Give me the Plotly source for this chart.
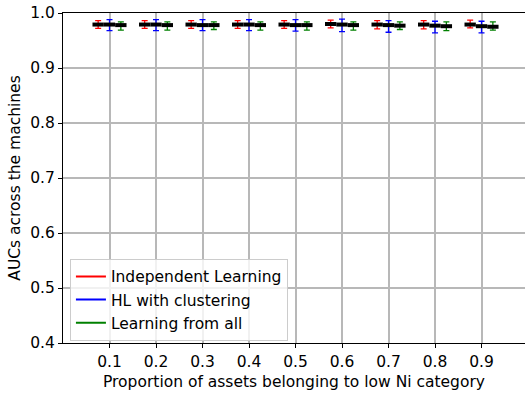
import plotly.graph_objects as go

categories = [0.1, 0.2, 0.3, 0.4, 0.5, 0.6, 0.7, 0.8, 0.9]
series_names = ["Independent Learning", "HL with clustering", "Learning from all"]

red_med = [0.979, 0.979, 0.979, 0.979, 0.979, 0.980, 0.979, 0.979, 0.979]
red_hi = [0.986, 0.986, 0.986, 0.986, 0.986, 0.987, 0.986, 0.986, 0.987]
red_lo = [0.972, 0.972, 0.972, 0.972, 0.972, 0.973, 0.971, 0.971, 0.973]

blue_med = [0.979, 0.979, 0.978, 0.979, 0.978, 0.979, 0.978, 0.977, 0.976]
blue_hi = [0.988, 0.988, 0.988, 0.988, 0.988, 0.989, 0.986, 0.985, 0.985]
blue_lo = [0.968, 0.968, 0.968, 0.968, 0.967, 0.966, 0.965, 0.964, 0.964]

green_med = [0.978, 0.978, 0.978, 0.978, 0.978, 0.978, 0.977, 0.976, 0.975]
green_hi = [0.984, 0.984, 0.984, 0.984, 0.984, 0.984, 0.984, 0.984, 0.984]
green_lo = [0.969, 0.969, 0.970, 0.969, 0.969, 0.969, 0.970, 0.968, 0.969]

yticks = [0.4, 0.5, 0.6, 0.7, 0.8, 0.9, 1.0]

series = [
    (red_med, red_hi, red_lo, "#ff0000", -0.0244),
    (blue_med, blue_hi, blue_lo, "#0000ff", 0.0),
    (green_med, green_hi, green_lo, "#008000", 0.0244),
]
half_w = 0.0122
FONT = "DejaVu Sans"
FS = 15.5

fig = go.Figure()

for med, hi, lo, col, off in series:
    xs = [c + off for c in categories]
    fig.add_trace(go.Scatter(
        x=xs, y=med, mode="markers",
        marker=dict(size=2, color=col),
        error_y=dict(type="data", symmetric=False,
                     array=[h - m for h, m in zip(hi, med)],
                     arrayminus=[m - l for m, l in zip(med, lo)],
                     color=col, thickness=1.3, width=3),
        showlegend=False, hoverinfo="skip"))

# black median segments
for med, hi, lo, col, off in series:
    lx, ly = [], []
    for c, m in zip(categories, med):
        lx += [c + off - half_w, c + off + half_w, None]
        ly += [m, m, None]
    fig.add_trace(go.Scatter(x=lx, y=ly, mode="lines",
                             line=dict(color="black", width=4),
                             showlegend=False, hoverinfo="skip"))

# legend entries
for name, (_, _, _, col, _) in zip(series_names, series):
    fig.add_trace(go.Scatter(x=[None], y=[None], mode="lines", name=name,
                             legendgroup=name,
                             line=dict(color=col, width=2)))

fig.update_layout(
    width=525, height=395,
    margin=dict(l=63, r=0, t=13, b=52),
    paper_bgcolor="white", plot_bgcolor="white",
    font=dict(family=FONT, size=FS, color="black"),
    legend=dict(x=0.015, y=0.255, xanchor="left", yanchor="top",
                bgcolor="rgba(255,255,255,0.8)", bordercolor="#cccccc",
                borderwidth=1, font=dict(size=FS, family=FONT),
                traceorder="grouped", tracegroupgap=0),
    xaxis=dict(range=[0, 0.9935], tickvals=categories,
               ticktext=[f"{c:.1f}" for c in categories],
               showgrid=True, gridcolor="#b8b8b8", gridwidth=1.5,
               showline=True, linecolor="black", linewidth=1.2, mirror=True,
               ticks="outside", ticklen=4, tickcolor="black",
               zeroline=False,
               title=dict(text="Proportion of assets belonging to low Ni category",
                          standoff=6, font=dict(size=FS))),
    yaxis=dict(range=[0.4, 1.0], tickvals=yticks,
               ticktext=[f"{v:.1f}" for v in yticks],
               showgrid=True, gridcolor="#b8b8b8", gridwidth=1.5,
               showline=True, linecolor="black", linewidth=1.2,
               ticks="outside", ticklen=4, tickcolor="black",
               zeroline=False,
               title=dict(text="AUCs across the machines", standoff=5,
                          font=dict(size=FS))),
)

fig.write_html("out.html")
